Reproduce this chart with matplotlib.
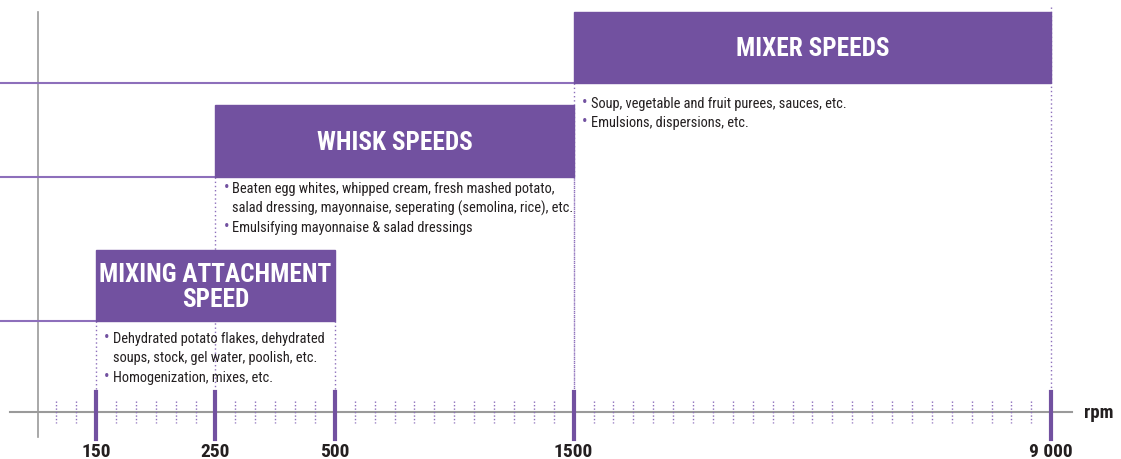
import matplotlib.pyplot as plt

# speed scale: labels and their place on the (piecewise) axis
tick_labels = ['150', '250', '500', '1500', '9 000']
tick_pos = [1, 2, 3, 5, 9]

# speed ranges (index into tick_labels)
groups = ['MIXING ATTACHMENT\nSPEED', 'WHISK SPEEDS', 'MIXER SPEEDS']
start = [0, 1, 3]
end = [2, 3, 4]
bullets = [
    ['Dehydrated potato flakes, dehydrated\nsoups, stock, gel water, poolish, etc.',
     'Homogenization, mixes, etc.'],
    ['Beaten egg whites, whipped cream, fresh mashed potato,\nsalad dressing, mayonnaise, seperating (semolina, rice), etc.',
     'Emulsifying mayonnaise & salad dressings'],
    ['Soup, vegetable and fruit purees, sauces, etc.',
     'Emulsions, dispersions, etc.'],
]

purple = '#7251a0'
line_purple = '#8d6fbb'
grey = '#9a9a9a'
txt = '#231f20'
plt.rcParams['font.family'] = ['Roboto Condensed', 'Archivo Narrow',
                               'Barlow Semi Condensed', 'DejaVu Sans']

fig = plt.figure(figsize=(11.21, 4.6), dpi=100)
ax = fig.add_axes([0, 0, 1, 1])
u = 119.4
ax.set_xlim(1 - 96 / u, 1 + 1025 / u)
ax.set_ylim(460, 0)
ax.axis('off')

axis_y = 413
# box tiers (top, bottom) in pixel rows
box_top = [251, 106, 13]
box_bot = [322, 178, 84]

# axis line and left vertical
ax.plot([1 - 86 / u, 1 + 976 / u], [axis_y, axis_y], color=grey, lw=1.5, zorder=1)
ax.plot([1 - 58 / u] * 2, [13, 438], color=grey, lw=1.2, zorder=1)

# minor dotted ticks every 1/6
for k in range(4, 54):
    if k % 6 == 0 and k // 6 in tick_pos:
        continue
    ax.plot([k / 6] * 2, [402, 424], color=line_purple, lw=1, ls=(0, (1, 1.5)), zorder=1)

# major ticks and labels
for p, lab in zip(tick_pos, tick_labels):
    ax.plot([p, p], [393, 440], color=purple, lw=3, zorder=2)
    ax.text(p, 452, lab, ha='center', va='center', fontsize=14,
            fontweight='bold', color=txt)
ax.text(1 + 988 / u, axis_y, 'rpm', ha='left', va='center', fontsize=13.5,
        fontweight='bold', color=txt)

# horizontal tier lines from left edge to each box
for i in range(3):
    ax.plot([0, tick_pos[start[i]]], [box_bot[i], box_bot[i]], color=line_purple,
            lw=1.5, zorder=1)

# dotted verticals at box edges
for i in range(3):
    for e in (start[i], end[i]):
        top = box_bot[i] if e != 4 else 8
        ax.plot([tick_pos[e]] * 2, [top, axis_y], color=line_purple, lw=1,
                ls=(0, (1, 2)), zorder=1)

# boxes, titles, bullets
bullet_dy = [[10, 49], [4, 43], [13, 32]]
for i in range(3):
    x0, x1 = tick_pos[start[i]], tick_pos[end[i]]
    ax.add_patch(plt.Rectangle((x0, box_top[i]), x1 - x0, box_bot[i] - box_top[i],
                               color=purple, zorder=3))
    ax.text((x0 + x1) / 2, (box_top[i] + box_bot[i]) / 2 + 1, groups[i],
            ha='center', va='center', fontsize=18.2, fontweight='bold', color='white',
            linespacing=1.05, zorder=4)
    for j, b in enumerate(bullets[i]):
        y = box_bot[i] + bullet_dy[i][j]
        ax.text(x0 + 8 / u, y - 2, '•', ha='left', va='top', fontsize=12,
                color=purple, zorder=4)
        ax.text(x0 + 17 / u, y, b, ha='left', va='top', fontsize=10.4,
                color=txt, linespacing=1.42, zorder=4)

fig.savefig('out.png', dpi=100)
